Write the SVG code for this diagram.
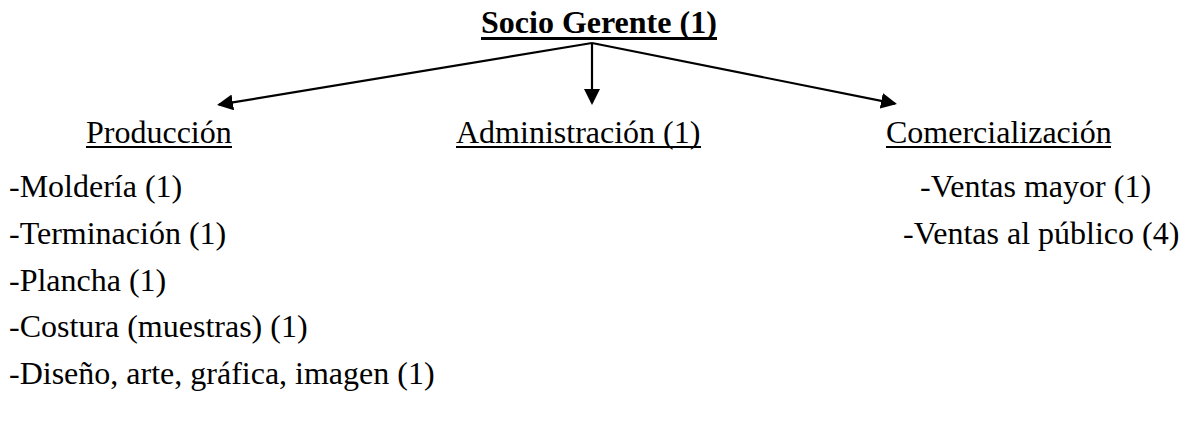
<svg xmlns="http://www.w3.org/2000/svg" width="1196" height="425" viewBox="0 0 1196 425">
<style>
.t{font-size:32px;fill:#000}
.b{font-weight:bold}
.u{stroke:#000;stroke-width:2}
.ub{stroke:#000;stroke-width:3}
.c{stroke:#000;stroke-width:2.2;fill:none}
</style>
<defs>
<marker id="ah" markerUnits="userSpaceOnUse" markerWidth="16" markerHeight="16" viewBox="0 0 16 16" refX="14" refY="8" orient="auto">
<path d="M0,0 L16,8 L0,16 z" fill="#000"/>
</marker>
</defs>
<rect width="1196" height="425" fill="#fff"/>
<g id="connectors">
<line class="c" x1="592" y1="43" x2="219" y2="104.7" marker-end="url(#ah)"/>
<line class="c" x1="592" y1="43" x2="592" y2="103" marker-end="url(#ah)"/>
<line class="c" x1="592" y1="43" x2="895" y2="103.6" marker-end="url(#ah)"/>
</g>
<g font-family="Times New Roman, Liberation Serif, serif">
<g id="socio-gerente">
<text class="t b" x="481" y="33">Socio Gerente (1)</text>
<line class="ub" x1="481" y1="38.5" x2="717" y2="38.5"/>
</g>
<g id="produccion">
<text class="t" x="86" y="143">Producción</text>
<line class="u" x1="86" y1="147" x2="232" y2="147"/>
<text class="t" x="9" y="197">-Moldería (1)</text>
<text class="t" x="9" y="244">-Terminación (1)</text>
<text class="t" x="9" y="291">-Plancha (1)</text>
<text class="t" x="9" y="337">-Costura (muestras) (1)</text>
<text class="t" x="9" y="384">-Diseño, arte, gráfica, imagen (1)</text>
</g>
<g id="administracion">
<text class="t" x="456" y="143">Administración (1)</text>
<line class="u" x1="456" y1="147" x2="701" y2="147"/>
</g>
<g id="comercializacion">
<text class="t" x="886" y="143">Comercialización</text>
<line class="u" x1="886" y1="147" x2="1111" y2="147"/>
<text class="t" x="920" y="197">-Ventas mayor (1)</text>
<text class="t" x="903" y="244">-Ventas al público (4)</text>
</g>
</g>
</svg>
